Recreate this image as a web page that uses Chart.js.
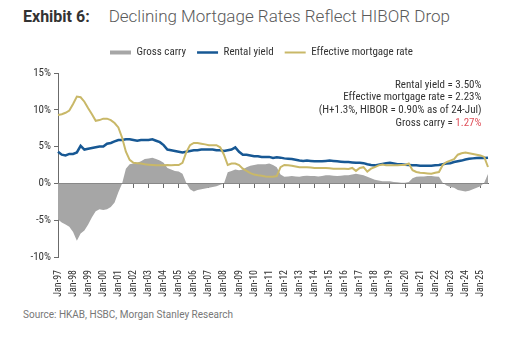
<!DOCTYPE html>
<html>
<head>
<meta charset="utf-8">
<script src="https://cdn.jsdelivr.net/npm/chart.js@4.4.1/dist/chart.umd.min.js"></script>
<style>
  body { margin: 0; width: 505px; height: 337px; background: #fff; position: relative; overflow: hidden; font-family: Roboto, sans-serif; }
  #titulo { position: absolute; left: 23px; top: 6px; white-space: nowrap; font-size: 17px; color: #5a5a5a; font-weight: 300; }
  #titulo b { color: #333; font-weight: 700; font-size: 16px; margin-right: 19px; }
  #grafico { position: absolute; left: 0; top: 36px; width: 505px; height: 266px; }
  #fonte { position: absolute; left: 23px; top: 309px; font-size: 10px; color: #777; }
</style>
</head>
<body>
<div id="titulo"><b>Exhibit 6:</b>Declining Mortgage Rates Reflect HIBOR Drop</div>
<div id="grafico"><canvas id="chartCarry"></canvas></div>
<div id="fonte">Source: HKAB, HSBC, Morgan Stanley Research</div>

<script>
// rótulos anuais (Jan de cada ano) e meses de cada trimestre
const anos = ['Jan-97','Jan-98','Jan-99','Jan-00','Jan-01','Jan-02','Jan-03','Jan-04','Jan-05','Jan-06',
  'Jan-07','Jan-08','Jan-09','Jan-10','Jan-11','Jan-12','Jan-13','Jan-14','Jan-15','Jan-16',
  'Jan-17','Jan-18','Jan-19','Jan-20','Jan-21','Jan-22','Jan-23','Jan-24','Jan-25'];
const meses = ['Jan', 'Apr', 'Jul', 'Oct'];

// dados trimestrais, Jan-97 ate Jul-25 (%)
const rentalYield = [
  4.3, 3.9, 3.8, 4.0,   4.0, 4.2, 5.1, 4.6,   4.7, 4.8, 4.9, 5.0,   5.0, 5.4, 5.5, 5.7,
  5.9, 5.9, 6.0, 6.0,   5.9, 5.8, 5.9, 5.9,   5.9, 6.0, 5.8, 5.6,   5.2, 4.6, 4.5, 4.4,
  4.3, 4.2, 4.3, 4.4,   4.5, 4.5, 4.6, 4.6,   4.6, 4.6, 4.5, 4.5,   4.4, 4.5, 4.6, 4.9,
  4.3, 3.9, 3.9, 3.8,   3.7, 3.7, 3.6, 3.6,   3.6, 3.45, 3.55, 3.5, 3.4, 3.35, 3.3, 3.2,
  3.1, 3.05, 3.1, 3.05, 3.0, 3.0, 3.0, 3.05,  3.1, 3.05, 3.0, 2.95, 2.9, 2.9, 2.85, 2.8,
  2.8, 2.75, 2.6, 2.5,  2.45, 2.55, 2.65, 2.75, 2.8, 2.7, 2.6, 2.6, 2.55, 2.5, 2.45, 2.45,
  2.4, 2.4, 2.4, 2.4,   2.45, 2.5, 2.6, 2.7,  2.75, 2.9, 3.0, 3.1,  3.25, 3.35, 3.4, 3.45,
  3.5, 3.45, 3.50
];
const mortgageRate = [
  9.3, 9.4, 9.6, 9.9,   10.8, 11.8, 11.7, 11.1, 10.2, 9.4, 8.5, 8.6,  8.8, 8.8, 8.6, 8.2,
  7.6, 6.2, 4.3, 3.2,   2.8, 2.75, 2.7, 2.6,  2.55, 2.5, 2.45, 2.45, 2.45, 2.5, 2.45, 2.5,
  2.5, 2.8, 4.2, 5.2,   5.5, 5.5, 5.4, 5.3,   5.2, 5.2, 5.2, 4.9,   3.9, 2.5, 2.7, 2.7,
  2.5, 2.0, 1.7, 1.4,   1.2, 1.1, 1.05, 0.95, 0.9, 0.9, 1.0, 2.2,  2.5, 2.45, 2.4, 2.3,
  2.2, 2.2, 2.2, 2.15,  2.1, 2.1, 2.1, 2.1,   2.05, 2.0, 2.0, 2.0,  2.0, 1.95, 2.1, 1.7,
  2.1, 2.2, 1.6, 2.0,   2.2, 2.45, 2.55, 2.45, 2.45, 2.45, 2.45, 2.5, 2.5, 2.7, 1.8, 1.55,
  1.45, 1.4, 1.35, 1.3, 1.45, 1.55, 2.5, 2.9, 3.1, 3.3, 3.9, 4.1,   4.2, 4.1, 4.0, 3.9,
  3.8, 3.6, 2.23
];
const grossCarry = [
  -4.9, -5.3, -5.6, -5.9, -6.6, -7.8, -6.8, -6.4, -5.6, -4.6, -3.8, -3.5, -3.6, -3.5, -3.2, -2.6,
  -1.2, 0.0, 2.0, 2.6,  2.7, 2.8, 3.0, 3.3,   3.4, 3.5, 3.3, 3.1,   2.8, 2.1, 1.9, 1.7,
  1.6, 1.3, 0.1, -0.8,  -1.1, -0.9, -0.8, -0.7, -0.6, -0.5, -0.4, -0.2, 0.0, 1.5, 1.7, 1.9,
  1.8, 1.9, 2.2, 2.4,   2.5, 2.6, 2.6, 2.6,   2.7, 2.5, 2.2, 1.2,   0.9, 0.95, 1.0, 0.95,
  0.9, 1.0, 1.05, 1.0,  1.0, 0.95, 1.0, 1.1,  1.1, 1.05, 1.0, 1.05, 1.1, 1.1, 1.2, 1.3,
  1.2, 1.1, 0.9, 0.7,   0.5, 0.4, 0.3, 0.3,   0.3, 0.2, 0.15, 0.1,  0.1, 0.2, 0.7, 0.9,
  0.95, 0.95, 1.0, 1.0, 0.95, 0.9, 0.1, -0.3, -0.5, -0.6, -0.9, -1.0, -1.1, -1.0, -0.8, -0.6,
  -0.4, 0.1, 1.27
];

const trimestres = [];
for (let i = 0; i < rentalYield.length; i++) {
  trimestres.push(meses[i % 4] + anos[Math.floor(i / 4)].slice(3));
}

const fonteNarrow = "'Liberation Sans Narrow', 'Roboto Condensed', Roboto, sans-serif";
const corCinza = '#a6a6a6';
const corAzul = '#175894';
const corOuro = '#c9b868';
const corEixo = '#6b6b6b';

// texto no canto superior direito com os ultimos valores
const notaPlugin = {
  id: 'nota',
  afterLayout(chart) {
    // legenda um pouco deslocada para a direita e para cima
    const lg = chart.legend;
    lg.left += 15;
    lg.right += 15;
    lg.top -= 5;
    lg.bottom -= 5;
  },
  afterDraw(chart) {
    const { ctx, chartArea } = chart;
    const ult = rentalYield.length - 1;
    const x = chartArea.right - 6.5;
    const y0 = chartArea.top + 12;
    ctx.save();
    ctx.font = '11px ' + fonteNarrow;
    ctx.textAlign = 'right';
    ctx.textBaseline = 'middle';
    ctx.fillStyle = '#333';
    ctx.fillText('Rental yield = ' + rentalYield[ult].toFixed(2) + '%', x, y0);
    ctx.fillText('Effective mortgage rate = ' + mortgageRate[ult].toFixed(2) + '%', x, y0 + 12.7);
    ctx.fillText('(H+1.3%, HIBOR = 0.90% as of 24-Jul)', x, y0 + 25.7);
    const vermelho = grossCarry[ult].toFixed(2) + '%';
    ctx.fillStyle = '#e0505a';
    ctx.fillText(vermelho, x, y0 + 38.3);
    const w = ctx.measureText(vermelho).width;
    ctx.fillStyle = '#333';
    ctx.fillText('Gross carry = ', x - w, y0 + 38.3);
    ctx.restore();
  }
};

const ctxCarry = document.getElementById('chartCarry');

new Chart(ctxCarry, {
  type: 'line',
  data: {
    labels: trimestres,
    datasets: [
      {
        label: 'Gross carry',
        data: grossCarry,
        fill: 'origin',
        backgroundColor: corCinza,
        borderColor: corCinza,
        borderWidth: 0,
        pointRadius: 0,
        pointStyle: 'rect',
        order: 2
      },
      {
        label: 'Rental yield',
        data: rentalYield,
        borderColor: corAzul,
        backgroundColor: corAzul,
        borderWidth: 2.5,
        pointRadius: 0,
        pointStyle: 'line',
        order: 1
      },
      {
        label: 'Effective mortgage rate',
        data: mortgageRate,
        borderColor: corOuro,
        backgroundColor: corOuro,
        borderWidth: 2,
        pointRadius: 0,
        pointStyle: 'line',
        order: 0
      }
    ]
  },
  options: {
    responsive: true,
    maintainAspectRatio: false,
    animation: false,
    layout: { padding: { top: 5, right: 12, left: 0, bottom: 0 } },
    plugins: {
      tooltip: { enabled: false },
      legend: {
        position: 'top',
        labels: {
          usePointStyle: true,
          pointStyleWidth: 21,
          boxHeight: 4,
          padding: 11,
          color: '#333',
          font: { family: fonteNarrow, size: 11 },
          sort: (a, b) => a.datasetIndex - b.datasetIndex
        }
      }
    },
    scales: {
      x: {
        type: 'category',
        position: 'bottom',
        grid: { display: false },
        border: { display: false },
        ticks: {
          autoSkip: false,
          maxRotation: 90,
          minRotation: 90,
          padding: 5,
          color: '#333',
          font: { family: fonteNarrow, size: 10 },
          callback: function (v, i) {
            return i % 4 === 0 ? anos[i / 4] : '';
          }
        },
        afterFit: (s) => { s.height = 45; }
      },
      x0: {
        type: 'category',
        axis: 'x',
        labels: trimestres,
        position: { y: 0 },
        grid: {
          display: true,
          drawOnChartArea: false,
          tickLength: 4,
          color: (c) => (c.index % 4 === 0 ? corEixo : 'rgba(0,0,0,0)')
        },
        border: { display: true, color: corEixo, width: 1 },
        ticks: { display: false, autoSkip: false }
      },
      y: {
        min: -10,
        max: 15,
        grid: { display: true, drawOnChartArea: false, tickLength: 4, color: corEixo },
        border: { display: true, color: corEixo, width: 1 },
        ticks: {
          stepSize: 5,
          padding: 3,
          color: '#333',
          font: { family: fonteNarrow, size: 11 },
          callback: (v) => v + '%'
        },
        afterFit: (s) => { s.width = 58; }
      }
    }
  },
  plugins: [notaPlugin]
});
</script>
</body>
</html>
